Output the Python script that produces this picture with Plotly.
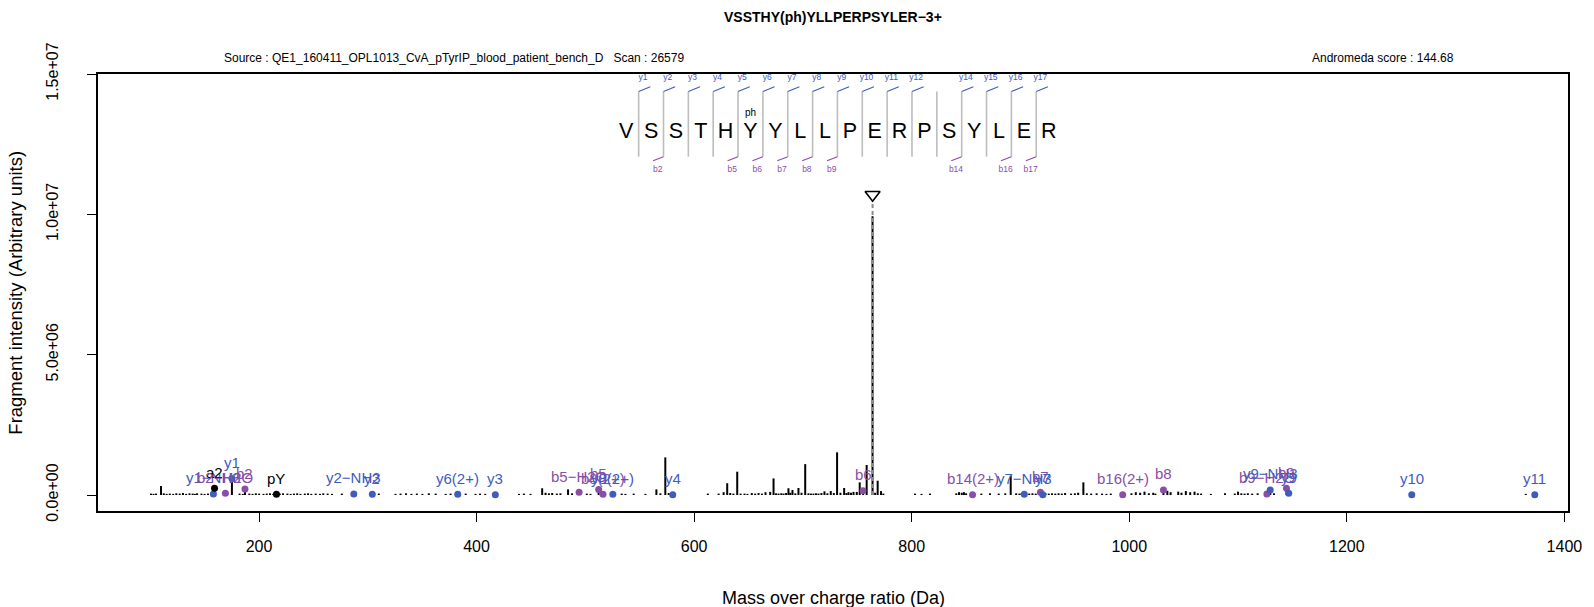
import plotly.graph_objects as go

# ---------------- data ----------------
TITLE = "VSSTHY(ph)YLLPERPSYLER\u22123+"
SOURCE = "Source : QE1_160411_OPL1013_CvA_pTyrIP_blood_patient_bench_D   Scan : 26579"
SCORE = "Andromeda score : 144.68"
X_TITLE = "Mass over charge ratio (Da)"
Y_TITLE = "Fragment intensity (Arbitrary units)"

peak_mz = [100.7, 103.0, 105.3, 109.9, 112.5, 115.1, 118.0, 121.1, 124.0, 127.1, 130.1, 133.0,
           136.1, 139.0, 141.1, 143.1, 147.1, 150.0, 153.1, 156.1, 158.1, 159.1, 169.1, 175.1,
           182.1, 185.1, 187.1, 191.1, 194.1, 197.1, 200.1, 204.1, 207.1, 210.1, 213.1, 216.0,
           219.1, 222.1, 226.1, 229.1, 232.1, 235.1, 238.1, 242.1, 245.1, 248.1, 252.1, 256.1,
           259.1, 263.1, 267.1, 276.1, 285.6, 287.1, 304.2, 310.1, 325.5, 330.1, 335.1, 340.1,
           345.1, 350.2, 356.1, 362.4, 371.6, 376.1, 380.8, 382.7, 390.0, 399.0, 403.2, 408.0,
           417.2, 439.0, 443.5, 449.6, 460.3, 463.4, 466.5, 469.5, 473.8, 477.1, 484.1, 487.8,
           494.2, 501.3, 504.7, 512.2, 516.2, 525.3, 533.4, 536.8, 544.4, 555.2, 565.3, 569.0,
           573.5, 576.6, 580.3, 612.6, 622.5, 627.1, 630.4, 633.2, 636.1, 639.6, 642.7, 646.3,
           649.0, 653.0, 656.1, 659.2, 662.3, 665.6, 669.9, 673.0, 675.3, 677.6, 680.1, 682.2,
           684.5, 686.7, 688.4, 690.4, 693.0, 695.9, 698.7, 702.1, 705.1, 707.4, 709.7, 712.0,
           714.3, 717.0, 719.8, 722.5, 725.6, 728.4, 731.4, 734.5, 737.9, 740.0, 741.9, 744.2,
           746.5, 749.5, 752.2, 755.3, 758.6, 764.0, 766.4, 768.7, 771.8, 773.9, 803.0, 809.0,
           816.8, 841.0, 843.5, 846.0, 848.0, 850.0, 855.9, 864.0, 872.0, 880.0, 886.0, 891.0,
           896.0, 899.0, 901.0, 903.5, 908.0, 911.0, 914.0, 918.3, 920.5, 923.0, 926.0, 929.0,
           932.0, 935.0, 938.0, 941.0, 946.5, 950.0, 953.0, 957.8, 961.0, 965.0, 970.0, 975.0,
           979.0, 983.0, 994.0, 1002.0, 1006.0, 1010.0, 1014.0, 1018.0, 1022.0, 1024.0, 1031.4,
           1035.0, 1038.0, 1045.0, 1048.0, 1052.0, 1056.0, 1060.0, 1063.0, 1066.0, 1075.0, 1088.0,
           1097.0, 1100.0, 1103.0, 1106.0, 1109.0, 1113.0, 1118.0, 1126.5, 1129.6, 1133.0, 1144.5,
           1146.6, 1364.5]
peak_int = [5e4, 4e4, 5e4, 3.2e5, 6e4, 4e4, 5e4, 4e4, 6e4, 5e4, 7e4, 4e4,
            6e4, 5e4, 4e4, 6e4, 5e4, 4e4, 5e4, 6e4, 3.6e4, 2.4e5, 6e4, 5.9e5,
            5e4, 4e4, 2.1e5, 5e4, 4e4, 6e4, 5e4, 4e4, 5e4, 6e4, 4e4, 4e4,
            5e4, 6e4, 5e4, 4e4, 5e4, 6e4, 4e4, 5e4, 6e4, 4e4, 5e4, 4e4,
            6e4, 5e4, 4e4, 5e4, 4e4, 4e4, 4e4, 5e4, 4e4, 5e4, 6e4, 4e4,
            5e4, 4e4, 6e4, 5e4, 4e4, 5e4, 4e4, 4e4, 5e4, 4e4, 5e4, 4e4,
            4e4, 4e4, 5e4, 4e4, 2.4e5, 8e4, 6e4, 7e4, 5e4, 6e4, 2.0e5, 6e4,
            9.5e4, 5e4, 4e4, 2.0e5, 4e4, 4e4, 5e4, 4e4, 5e4, 4e4, 2.0e5, 6e4,
            1.34e6, 7e4, 4e4, 5e4, 5e4, 1.0e5, 4.2e5, 7e4, 5e4, 8.3e5, 5e4, 5e4,
            4e4, 7e4, 5e4, 7e4, 5e4, 1.0e5, 1.1e5, 5.9e5, 6e4, 5e4, 6e4, 5e4,
            7e4, 2.4e5, 8e4, 1.8e5, 6e4, 2.5e5, 8e4, 1.1e6, 6e4, 5e4, 5e4, 6e4,
            5e4, 7e4, 1.3e5, 6e4, 1.4e5, 7e4, 1.52e6, 8e4, 2.5e5, 7e4, 1.0e5, 8e4,
            1.1e5, 1.1e5, 4.5e5, 1.5e5, 1.07e6, 9.93e6, 8e4, 5.1e5, 1.4e5, 5e4, 5e4, 4e4,
            5e4, 6e4, 1.0e5, 8e4, 1.0e5, 6e4, 4e4, 5e4, 6e4, 5e4, 6e4, 6.9e5,
            6e4, 5e4, 6e4, 4e4, 5e4, 6e4, 5e4, 9.5e4, 4e4, 6e4, 5e4, 6e4,
            5e4, 6e4, 5e4, 7e4, 5e4, 6e4, 8e4, 4.5e5, 6e4, 5e4, 6e4, 5e4,
            4e4, 5e4, 4e4, 6e4, 1.0e5, 8e4, 1.2e5, 6e4, 8e4, 5e4, 1.8e5,
            1.5e5, 1.0e5, 1.2e5, 8e4, 1.4e5, 1.0e5, 1.2e5, 6e4, 5e4, 4e4, 6e4,
            5e4, 1.2e5, 6e4, 5e4, 6e4, 5e4, 6e4, 4e4, 1.8e5, 6e4, 2.4e5,
            6e4, 4e4]

ion_labels = ["y1\u2212NH3", "a2", "b2\u2212H2O", "y1", "b2", "pY", "y2\u2212NH3", "y2", "y6(2+)", "y3",
              "b5\u2212H2O", "b5", "b8(2+)", "y8(2+)", "y4", "b6", "b14(2+)", "y7\u2212NH3", "b7", "y7",
              "b16(2+)", "b8", "b9\u2212H2O", "y9\u2212NH3", "b9", "y9", "y10", "y11"]
ion_mz = [158.09, 159.11, 169.10, 175.12, 187.11, 216.04, 287.14, 304.16, 382.70, 417.25,
          494.24, 512.25, 516.21, 525.27, 580.31, 755.28, 855.90, 903.47, 918.34, 920.50,
          993.97, 1031.42, 1126.50, 1129.56, 1144.51, 1146.59, 1259.68, 1372.76]
ion_int = [3.6e4, 2.4e5, 6e4, 5.9e5, 2.1e5, 2.5e4, 3.6e4, 2.5e4, 2.5e4, 1.2e4,
           9.5e4, 2.0e5, 2.4e4, 2.4e4, 1.2e4, 1.5e5, 1.2e4, 2.4e4, 9.5e4, 1.2e4,
           1.2e4, 1.8e5, 3.6e4, 1.8e5, 2.4e5, 6e4, 1.2e4, 1.2e4]

precursor_mz = 764.04
precursor_marker_int = 1.07e7
precursor_line_top = 1.045e7

sequence = list("VSSTHYYLLPERPSYLER")
phospho_index = 5
y_observed = [1, 2, 3, 4, 5, 6, 7, 8, 9, 10, 11, 12, 14, 15, 16, 17]
b_observed = [2, 5, 6, 7, 8, 9, 14, 16, 17]

x_ticks = [200, 400, 600, 800, 1000, 1200, 1400]
y_ticks = [0, 5e6, 1e7, 1.5e7]
y_ticktext = ["0.0e+00", "5.0e+06", "1.0e+07", "1.5e+07"]

# ---------------- style / layout constants ----------------
W, H = 1594, 607
ML, MR, MT, MB = 98, 23, 74, 96
PW, PH = W - ML - MR, H - MT - MB
X_RANGE = [52.0, 1403.3]
Y_RANGE = [-5.7e5, 1.5e7]
FONT = "Liberation Sans, Arial, Helvetica, sans-serif"
BLUE = "#3F5CBD"
PURPLE = "#8A4DA8"
SEP_GREY = "#BDBDBD"

# peptide diagram geometry (pixels relative to plot area)
LETTER_PX0 = 627.3 - ML
LETTER_STEP = 24.9
X2_RANGE = [-LETTER_PX0 / LETTER_STEP, (PW - LETTER_PX0) / LETTER_STEP]
Y2_RANGE = [PH, 0]  # y2 = pixels below the top of the plot area


def px_to_paper_x(px):
    return (px - ML) / PW


def px_to_paper_y(py):
    return (H - MB - py) / PH


def ion_color(lbl):
    if lbl.startswith("y"):
        return BLUE
    if lbl.startswith("b"):
        return PURPLE
    return "black"


fig = go.Figure()

# spectrum (stick plot)
sx, sy = [], []
for m, i in zip(peak_mz, peak_int):
    sx += [m, m, None]
    sy += [0, i, None]
fig.add_trace(go.Scatter(x=sx, y=sy, mode="lines", line=dict(color="black", width=2),
                         hoverinfo="skip", showlegend=False))

# precursor marker
fig.add_trace(go.Scatter(x=[precursor_mz, precursor_mz], y=[0, precursor_line_top], mode="lines",
                         line=dict(color="#8c8c8c", width=2, dash="4px,3px"),
                         hoverinfo="skip", showlegend=False))
fig.add_trace(go.Scatter(x=[precursor_mz], y=[precursor_marker_int], mode="markers",
                         marker=dict(symbol="triangle-down-open", size=13, color="black",
                                     line=dict(width=1.6, color="black")),
                         hoverinfo="skip", showlegend=False))

# annotated ions
fig.add_trace(go.Scatter(x=ion_mz, y=ion_int, mode="markers",
                         marker=dict(size=7, color=[ion_color(l) for l in ion_labels],
                                     line=dict(width=0)),
                         hoverinfo="skip", showlegend=False))

annotations = []
for lbl, m, i in zip(ion_labels, ion_mz, ion_int):
    annotations.append(dict(x=m, y=i, xref="x", yref="y", text=lbl, showarrow=False,
                            yshift=16, xanchor="center", yanchor="middle",
                            font=dict(family=FONT, size=15, color=ion_color(lbl))))

# peptide fragmentation diagram on an overlay axis
idx = list(range(len(sequence)))
fig.add_trace(go.Scatter(x=idx, y=[59] * len(sequence), mode="text", text=sequence,
                         textfont=dict(family=FONT, size=21.5, color="black"),
                         textposition="middle center", xaxis="x2", yaxis="y2",
                         hoverinfo="skip", showlegend=False))
fig.add_trace(go.Scatter(x=[phospho_index], y=[39.5], mode="text", text=["ph"],
                         textfont=dict(family=FONT, size=10, color="black"),
                         textposition="middle center", xaxis="x2", yaxis="y2",
                         hoverinfo="skip", showlegend=False))

sep_x, sep_y = [], []
for k in range(len(sequence) - 1):
    sep_x += [k + 0.5, k + 0.5, None]
    sep_y += [17.5, 82.7, None]
fig.add_trace(go.Scatter(x=sep_x, y=sep_y, mode="lines", line=dict(color=SEP_GREY, width=1.6),
                         xaxis="x2", yaxis="y2", hoverinfo="skip", showlegend=False))

yt_x, yt_y = [], []
for n in y_observed:
    xs = n - 1 + 0.5
    yt_x += [xs, xs + 0.47, None]
    yt_y += [17.5, 12.7, None]
fig.add_trace(go.Scatter(x=yt_x, y=yt_y, mode="lines", line=dict(color=BLUE, width=1.1),
                         xaxis="x2", yaxis="y2", hoverinfo="skip", showlegend=False))
fig.add_trace(go.Scatter(x=[n - 1 + 0.5 + 0.17 for n in y_observed], y=[3.5] * len(y_observed),
                         mode="text", text=[f"y{n}" for n in y_observed],
                         textfont=dict(family=FONT, size=8.5, color=BLUE),
                         textposition="middle center", xaxis="x2", yaxis="y2",
                         hoverinfo="skip", showlegend=False))

bt_x, bt_y = [], []
for n in b_observed:
    xs = n - 1 + 0.5
    bt_x += [xs, xs - 0.42, None]
    bt_y += [82.7, 86.8, None]
fig.add_trace(go.Scatter(x=bt_x, y=bt_y, mode="lines", line=dict(color=PURPLE, width=1.1),
                         xaxis="x2", yaxis="y2", hoverinfo="skip", showlegend=False))
fig.add_trace(go.Scatter(x=[n - 1 + 0.5 - 0.23 for n in b_observed], y=[96] * len(b_observed),
                         mode="text", text=[f"b{n}" for n in b_observed],
                         textfont=dict(family=FONT, size=8.5, color=PURPLE),
                         textposition="middle center", xaxis="x2", yaxis="y2",
                         hoverinfo="skip", showlegend=False))

# titles and header texts
annotations += [
    dict(x=px_to_paper_x(ML + PW / 2), y=px_to_paper_y(17.5), xref="paper", yref="paper",
         text=f"<b>{TITLE}</b>", showarrow=False, xanchor="center", yanchor="middle",
         font=dict(family=FONT, size=14, color="black")),
    dict(x=px_to_paper_x(222), y=px_to_paper_y(58), xref="paper", yref="paper",
         text=SOURCE, showarrow=False, xanchor="left", yanchor="middle",
         font=dict(family=FONT, size=12, color="black")),
    dict(x=px_to_paper_x(1459), y=px_to_paper_y(58), xref="paper", yref="paper",
         text=SCORE, showarrow=False, xanchor="right", yanchor="middle",
         font=dict(family=FONT, size=12, color="black")),
    dict(x=0.5, y=px_to_paper_y(598), xref="paper", yref="paper",
         text=X_TITLE, showarrow=False, xanchor="center", yanchor="middle",
         font=dict(family=FONT, size=18, color="black")),
    dict(x=px_to_paper_x(15), y=0.5, xref="paper", yref="paper",
         text=Y_TITLE, showarrow=False, xanchor="center", yanchor="middle", textangle=-90,
         font=dict(family=FONT, size=18.5, color="black")),
]

fig.update_layout(
    width=W, height=H,
    margin=dict(l=ML, r=MR, t=MT, b=MB, pad=0),
    paper_bgcolor="white", plot_bgcolor="white",
    showlegend=False,
    font=dict(family=FONT, color="black"),
    xaxis=dict(range=X_RANGE, tickvals=x_ticks, ticktext=[str(v) for v in x_ticks],
               ticks="outside", ticklen=9, tickwidth=1.3, tickcolor="black",
               showline=True, linecolor="black", linewidth=2, mirror=True,
               showgrid=False, zeroline=False, tickfont=dict(family=FONT, size=16),
               ticklabelstandoff=11),
    yaxis=dict(range=Y_RANGE, tickvals=y_ticks, ticktext=y_ticktext, tickangle=-90,
               ticks="outside", ticklen=9, tickwidth=1.3, tickcolor="black",
               showline=True, linecolor="black", linewidth=2, mirror=True,
               showgrid=False, zeroline=False, tickfont=dict(family=FONT, size=16),
               ticklabelstandoff=23),
    xaxis2=dict(overlaying="x", anchor="y2", range=X2_RANGE, visible=False),
    yaxis2=dict(overlaying="y", anchor="x2", range=Y2_RANGE, visible=False),
    annotations=annotations,
)

fig.write_html("out.html", config={"displayModeBar": False},
               post_script="document.body.style.margin='0';document.body.style.overflow='hidden';")
